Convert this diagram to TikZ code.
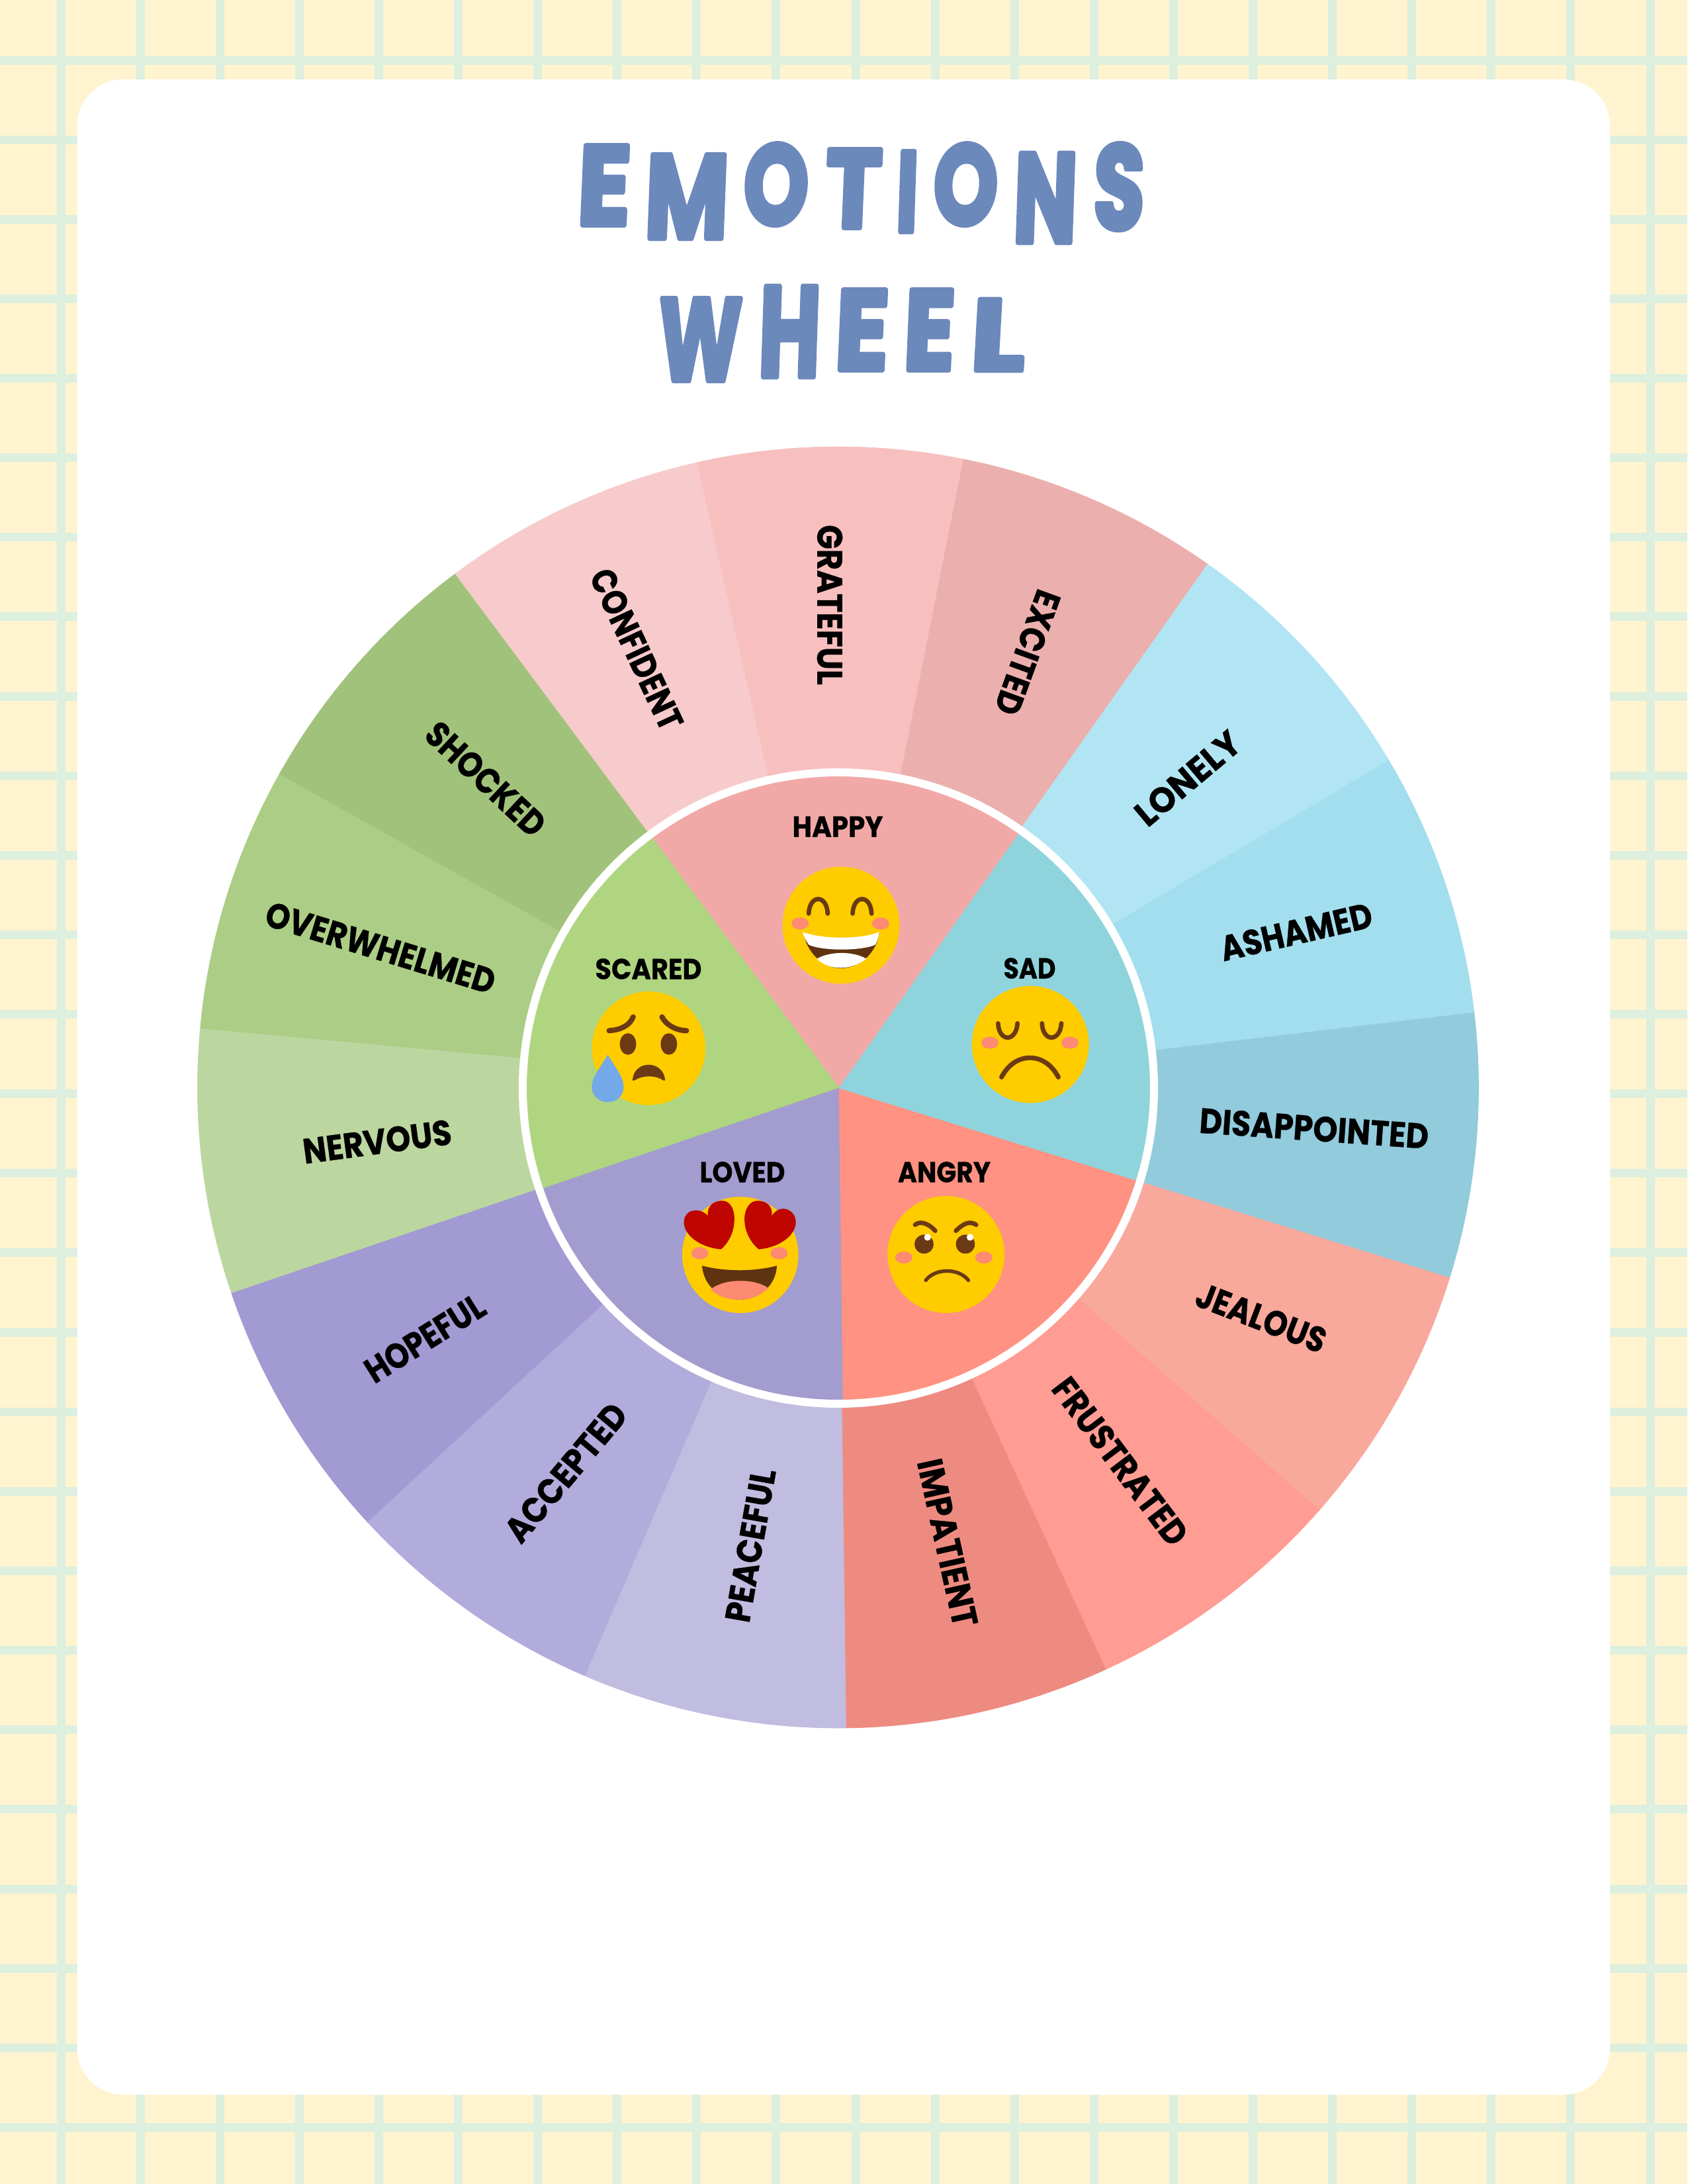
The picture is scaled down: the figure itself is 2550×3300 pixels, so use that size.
\documentclass[tikz,border=0pt]{standalone}
\usepackage{fontspec}
\usepackage{graphicx}
\setmainfont{Poppins}
\newfontfamily\labf[BoldFeatures={FakeBold=0.6}]{Poppins}
\newfontfamily\titlef[BoldFeatures={FakeBold=4.5,FakeSlant=0.05}]{Poppins}
\definecolor{bgc}{HTML}{FFF4CF}
\definecolor{gridc}{HTML}{DDEFDE}
\definecolor{titlec}{HTML}{6C89BC}
\definecolor{yel}{HTML}{FFCC00}
\definecolor{brn}{HTML}{6B3A14}
\definecolor{mth}{HTML}{5F3310}
\definecolor{chk}{HTML}{FD8A72}
\definecolor{heart}{HTML}{BE0500}
\definecolor{tear}{HTML}{73A9E8}
\definecolor{cHappy}{HTML}{F1A9A7}
\definecolor{cSad}{HTML}{8FD4DC}
\definecolor{cAngry}{HTML}{FF9282}
\definecolor{cLoved}{HTML}{A39CCE}
\definecolor{cScared}{HTML}{AFD580}
\definecolor{cConf}{HTML}{F7CBCB}
\definecolor{cGrat}{HTML}{F7C0BF}
\definecolor{cExci}{HTML}{EBB0AE}
\definecolor{cLone}{HTML}{B2E5F3}
\definecolor{cAsha}{HTML}{A3DEEE}
\definecolor{cDisa}{HTML}{91CBDC}
\definecolor{cJeal}{HTML}{F9A89C}
\definecolor{cFrus}{HTML}{FF9C93}
\definecolor{cImpa}{HTML}{EE8B81}
\definecolor{cPeac}{HTML}{C1BDE0}
\definecolor{cAcce}{HTML}{B2ACDC}
\definecolor{cHope}{HTML}{A29AD2}
\definecolor{cNerv}{HTML}{BCD6A0}
\definecolor{cOver}{HTML}{ABCD85}
\definecolor{cShoc}{HTML}{A1C27A}
\newdimen\pxu \pxu=0.24pt
\newcommand\fitl[3]{\resizebox{#1\pxu}{#2\pxu}{\special{pdf:code 1 j 1 J}\bfseries #3}}
\newcommand\TL[5]{\rlap{\kern#1\pxu\raisebox{#2\pxu}{\resizebox{#3\pxu}{#4\pxu}{\special{pdf:code 1 j 1 J}#5}}}}
\tikzset{
  wheellab/.style={inner sep=0pt,font=\labf,text=black},
  titlelab/.style={inner sep=0pt,anchor=base west,font=\titlef\bfseries,text=titlec},
  face/.style={fill=yel},
  cheek/.style={fill=chk},
  linefeat/.style={draw=brn,line cap=round,line join=round,line width=1.6pt},
  mouthfill/.style={fill=mth},
}
\newcommand\wedgefill[4]{\fill[#4,draw=#4,line width=0.15pt] (0,0) -- (#1:#3) arc[start angle=#1,end angle=#2,radius=#3] -- cycle;}
\begin{document}
\begin{tikzpicture}[x=0.24pt,y=-0.24pt]
\useasboundingbox (0,0) rectangle (2550,3300);
\fill[bgc] (0,0) rectangle (2550,3300);
\foreach \k in {0,...,20} {\fill[gridc] ({92+120.1*\k-6.5},0) rectangle ({92+120.1*\k+6.5},3300);}
\foreach \k in {0,...,26} {\fill[gridc] (0,{91+120.13*\k-6.5}) rectangle (2550,{91+120.13*\k+6.5});}
\fill[white,rounded corners=16.8pt] (116.5,120) rectangle (2433,3165);

% title
\node[titlelab] (title1) at (870,340) {\TL{0}{0}{80}{120}{E}\TL{102}{-20}{126}{126}{M}\TL{251}{1}{98}{122}{O}\TL{374}{-4}{85}{118}{T}\TL{482}{-10}{33}{121}{I}\TL{538}{1}{97}{122}{O}\TL{659}{-26}{96}{134}{N}\TL{780}{-6}{77}{129}{S}\kern863\pxu};
\node[titlelab] (title2) at (992,559) {\TL{0}{-16}{126}{124}{W}\TL{152}{-10}{93}{136}{H}\TL{267}{0}{81}{121}{E}\TL{371}{0}{77}{121}{E}\TL{472}{-1}{82}{108}{L}\kern558\pxu};

% outer wedges
\begin{scope}[shift={(1266.5,1643)},y=0.24pt,rotate=-0.25]
\wedgefill{55}{79}{968}{cExci}
\wedgefill{79}{103}{968}{cGrat}
\wedgefill{103}{127}{968}{cConf}
\wedgefill{127}{151}{968}{cShoc}
\wedgefill{151}{175}{968}{cOver}
\wedgefill{175}{199}{968}{cNerv}
\wedgefill{199}{223}{968}{cHope}
\wedgefill{223}{247}{968}{cAcce}
\wedgefill{247}{271}{968}{cPeac}
\wedgefill{271}{295}{968}{cImpa}
\wedgefill{295}{319}{968}{cFrus}
\wedgefill{319}{343}{968}{cJeal}
\wedgefill{343}{367}{968}{cDisa}
\wedgefill{7}{31}{968}{cAsha}
\wedgefill{31}{55}{968}{cLone}
\end{scope}
% inner wedges
\begin{scope}[shift={(1268,1644)},y=0.24pt,rotate=-0.25]
\wedgefill{55}{127}{474}{cHappy}
\wedgefill{127}{199}{474}{cScared}
\wedgefill{199}{271}{474}{cLoved}
\wedgefill{271}{343}{474}{cAngry}
\wedgefill{343}{415}{474}{cSad}
\end{scope}
\draw[white,line width=2.9pt] (1267,1644) circle[radius=477];

% outer labels
\node[wheellab,rotate=-65] (confident) at (962,981) {\fitl{262}{38}{CONFIDENT}};
\node[wheellab,rotate=-90] (grateful) at (1254,914) {\fitl{242}{38}{GRATEFUL}};
\node[wheellab,rotate=-110] (excited) at (1553,986) {\fitl{196}{38}{EXCITED}};
\node[wheellab,rotate=40] (lonely) at (1795,1176) {\fitl{190}{38}{LONELY}};
\node[wheellab,rotate=13] (ashamed) at (1959,1408) {\fitl{234}{38}{ASHAMED}};
\node[wheellab,rotate=-4] (disappointed) at (1986,1705) {\fitl{347}{38}{DISAPPOINTED}};
\node[wheellab,rotate=-21] (jealous) at (1906,1991) {\fitl{206}{38}{JEALOUS}};
\node[wheellab,rotate=-53] (frustrated) at (1693,2208) {\fitl{302}{38}{FRUSTRATED}};
\node[wheellab,rotate=-77.5] (impatient) at (1432,2331) {\fitl{258}{38}{IMPATIENT}};
\node[wheellab,rotate=80] (peaceful) at (1134,2335) {\fitl{234}{38}{PEACEFUL}};
\node[wheellab,rotate=50] (accepted) at (855,2225) {\fitl{255}{38}{ACCEPTED}};
\node[wheellab,rotate=32] (hopeful) at (642,2022) {\fitl{203}{38}{HOPEFUL}};
\node[wheellab,rotate=7.6] (nervous) at (570,1725) {\fitl{226}{38}{NERVOUS}};
\node[wheellab,rotate=-17] (overwhelmed) at (575,1432) {\fitl{360}{38}{OVERWHELMED}};
\node[wheellab,rotate=-43] (shocked) at (734,1177) {\fitl{226}{38}{SHOCKED}};
% inner labels
\node[wheellab] (happy) at (1266,1249) {\fitl{137}{31}{HAPPY}};
\node[wheellab] (scared) at (980,1464) {\fitl{161}{31}{SCARED}};
\node[wheellab] (sad) at (1556,1463) {\fitl{79}{31}{SAD}};
\node[wheellab] (loved) at (1122,1771) {\fitl{129}{31}{LOVED}};
\node[wheellab] (angry) at (1427,1771) {\fitl{140}{31}{ANGRY}};

% emoji, drawn in the coordinates of a 1568-wide view of the centre
\begin{scope}[shift={(750,1130)},x=0.1561pt,y=-0.1561pt]
% happy
\fill[face] (801,412) circle[radius=136];
\fill[cheek] (706,408) ellipse[x radius=20,y radius=14];
\fill[cheek] (893,408) ellipse[x radius=20,y radius=14];
\draw[linefeat] (726,385) .. controls (728,340) and (768,340) .. (770,385);
\draw[linefeat] (828,385) .. controls (830,340) and (870,340) .. (872,385);
\fill[mouthfill] (714,430) .. controls (760,445) and (845,445) .. (890,430) .. controls (885,470) and (850,512) .. (800,512) .. controls (755,512) and (720,470) .. (714,430) -- cycle;
\fill[white] (712,428) .. controls (760,445) and (845,445) .. (890,428) .. controls (889,440) and (885,450) .. (880,458) .. controls (845,472) and (760,472) .. (727,458) .. controls (720,450) and (715,440) .. (712,428) -- cycle;
\fill[white] (745,490) .. controls (775,472) and (830,472) .. (860,490) .. controls (840,505) and (820,511) .. (800,511) .. controls (780,511) and (760,505) .. (745,490) -- cycle;
% sad
\fill[face] (1241,689) circle[radius=136];
\fill[cheek] (1147,685) ellipse[x radius=20,y radius=14];
\fill[cheek] (1333,685) ellipse[x radius=20,y radius=14];
\draw[linefeat] (1166,640) .. controls (1168,684) and (1208,684) .. (1211,640);
\draw[linefeat] (1268,640) .. controls (1270,684) and (1310,684) .. (1313,640);
\draw[linefeat,line width=1.7pt] (1174,765) .. controls (1205,705) and (1275,705) .. (1306,765);
% scared
\fill[face] (354,698) circle[radius=132];
\draw[linefeat,line width=1.9pt] (262,657) .. controls (290,655) and (310,645) .. (318,625);
\draw[linefeat,line width=1.9pt] (385,625) .. controls (395,645) and (420,657) .. (442,657);
\fill[brn] (306,688) ellipse[x radius=19,y radius=25];
\fill[brn] (401,688) ellipse[x radius=19,y radius=25];
\fill[brn,rounded corners=1pt] (316,776) .. controls (322,725) and (386,725) .. (393,776) .. controls (370,760) and (340,760) .. (316,776) -- cycle;
\fill[tear] (259,713) .. controls (275,740) and (296,765) .. (296,787) .. controls (296,808) and (280,823) .. (259,823) .. controls (238,823) and (222,808) .. (222,787) .. controls (222,765) and (243,740) .. (259,713) -- cycle;
% loved
\fill[face] (567,1178) circle[radius=135];
\fill[cheek] (473,1174) ellipse[x radius=20,y radius=14];
\fill[cheek] (657,1174) ellipse[x radius=20,y radius=14];
\fill[heart] (522,1165) .. controls (470,1160) and (436,1130) .. (436,1102) .. controls (436,1080) and (455,1072) .. (470,1075) .. controls (482,1077) and (490,1084) .. (492,1088) .. controls (488,1062) and (508,1052) .. (525,1052) .. controls (545,1052) and (555,1075) .. (553,1100) .. controls (552,1130) and (535,1155) .. (522,1165) -- cycle;
\fill[heart] (610,1165) .. controls (662,1160) and (696,1130) .. (696,1102) .. controls (696,1080) and (677,1068) .. (662,1071) .. controls (650,1073) and (642,1084) .. (640,1088) .. controls (644,1062) and (624,1052) .. (607,1052) .. controls (587,1052) and (575,1075) .. (577,1100) .. controls (578,1130) and (597,1155) .. (610,1165) -- cycle;
\fill[mouthfill] (478,1203) .. controls (530,1217) and (600,1217) .. (652,1203) .. controls (650,1250) and (610,1282) .. (565,1282) .. controls (520,1282) and (482,1250) .. (478,1203) -- cycle;
\fill[chk] (498,1258) .. controls (530,1232) and (600,1232) .. (632,1255) .. controls (610,1275) and (590,1282) .. (565,1282) .. controls (540,1282) and (515,1275) .. (498,1258) -- cycle;
% angry
\fill[face] (1045,1177) circle[radius=136];
\fill[cheek] (947,1184) ellipse[x radius=20,y radius=14];
\fill[cheek] (1133,1184) ellipse[x radius=20,y radius=14];
\fill[brn] (994,1153) circle[radius=22];
\fill[brn] (1090,1153) circle[radius=22];
\fill[white] (1002,1137) circle[radius=8];
\fill[white] (1101,1137) circle[radius=8];
\draw[linefeat] (973,1108) .. controls (985,1098) and (1005,1105) .. (1020,1122);
\draw[linefeat] (1115,1108) .. controls (1100,1098) and (1085,1105) .. (1068,1122);
\draw[linefeat,line width=1.3pt] (998,1237) .. controls (1020,1208) and (1075,1208) .. (1097,1237);
\end{scope}
\end{tikzpicture}
\end{document}
